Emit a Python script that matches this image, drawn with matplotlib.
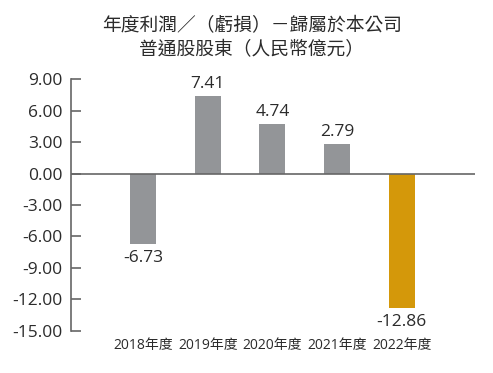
import numpy as np
import matplotlib.pyplot as plt

years = ["2018年度", "2019年度", "2020年度", "2021年度", "2022年度"]
profit = [-6.73, 7.41, 4.74, 2.79, -12.86]
bar_colors = ["#939598", "#939598", "#939598", "#939598", "#D4980A"]
yticks = [9, 6, 3, 0, -3, -6, -9, -12, -15]

fam = ["Open Sans", "Noto Sans CJK TC", "DejaVu Sans"]
plt.rcParams["font.family"] = fam
txt = "#2b2b2b"
axc = "#666666"

fig = plt.figure(figsize=(4.93, 3.73), dpi=100)
ax = fig.add_axes([0.1434, 0.1134, 0.8201, 0.6735])

x = np.arange(len(years))
ax.bar(x, profit, width=0.4, color=bar_colors, zorder=2)
ax.axhline(0, color=axc, lw=1.2, zorder=3)

for xi, v in zip(x, profit):
    if v >= 0:
        ax.annotate(f"{v:.2f}", (xi, v), xytext=(0, 3), textcoords="offset points",
                    ha="center", va="bottom", fontsize=12.5, color=txt)
    else:
        ax.annotate(f"{v:.2f}", (xi, v), xytext=(0, -4), textcoords="offset points",
                    ha="center", va="top", fontsize=12.5, color=txt)

ax.set_xlim(-1.117, 5.13)
ax.set_ylim(-15, 9)
ax.set_yticks(yticks)
ax.set_yticklabels([f"{t:.2f}" for t in yticks], fontsize=12.5, color=txt)
ax.set_xticks(x)
ax.set_xticklabels(years, fontsize=10, color=txt)
ax.tick_params(axis="x", length=0, pad=5)
ax.tick_params(axis="y", direction="in", length=7, width=1.2, color=axc, pad=6)

for s in ["top", "right", "bottom"]:
    ax.spines[s].set_visible(False)
ax.spines["left"].set_color(axc)
ax.spines["left"].set_linewidth(1.2)

fig.text(0.511, 0.93, "年度利潤／（虧損）－歸屬於本公司", ha="center", va="center",
         fontsize=13.5, color=txt, family=["Noto Sans CJK TC", "DejaVu Sans"])
fig.text(0.511, 0.868, "普通股股東（人民幣億元）", ha="center", va="center",
         fontsize=13.5, color=txt, family=["Noto Sans CJK TC", "DejaVu Sans"])

fig.savefig("out.png", dpi=100)
